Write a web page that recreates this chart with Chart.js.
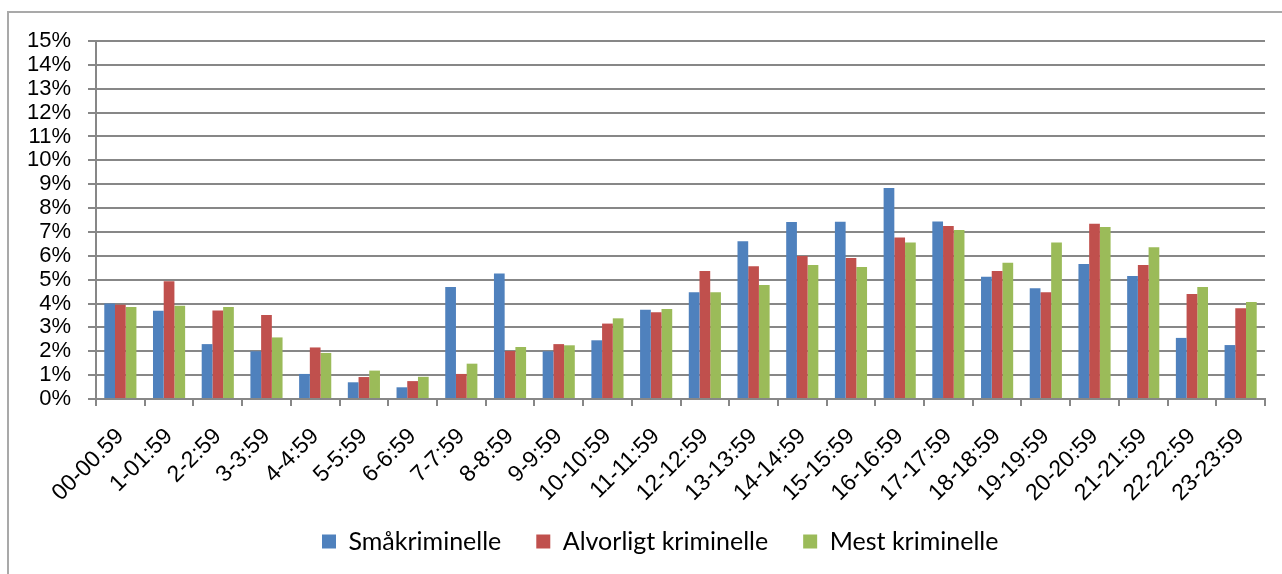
<!DOCTYPE html>
<html>
<head>
<meta charset="utf-8">
<script src="https://cdn.jsdelivr.net/npm/chart.js@4/dist/chart.umd.min.js"></script>
<style>
  body { margin: 0; background: #fff; }
  #frame {
    position: absolute; left: 7px; top: 11px; width: 1300px; height: 600px;
    border-left: 2px solid #a9a9a9; border-top: 2px solid #a9a9a9;
  }
  #wrap { position: absolute; left: 0; top: 0; width: 1282px; height: 574px; }
</style>
</head>
<body>
<div id="frame"></div>
<div id="wrap"><canvas id="myChart"></canvas></div>
<script>
// time of day categories
let hours = ['00-00.59','1-01:59','2-2:59','3-3:59','4-4:59','5-5:59','6-6:59','7-7:59','8-8:59','9-9:59','10-10:59','11-11:59',
             '12-12:59','13-13:59','14-14:59','15-15:59','16-16:59','17-17:59','18-18:59','19-19:59','20-20:59','21-21:59','22-22:59','23-23:59'];

// share of offences per hour, in percent
let smaakriminelle = [4.0,3.7,2.3,2.0,1.05,0.7,0.49,4.69,5.26,2.0,2.46,3.74,4.47,6.61,7.42,7.43,8.84,7.44,5.12,4.64,5.66,5.15,2.56,2.26];
let alvorligt = [3.95,4.93,3.71,3.52,2.16,0.92,0.75,1.05,2.01,2.3,3.16,3.64,5.36,5.56,5.99,5.91,6.77,7.25,5.36,4.47,7.34,5.61,4.4,3.8];
let mest = [3.85,3.91,3.85,2.58,1.93,1.19,0.93,1.48,2.18,2.25,3.38,3.77,4.47,4.78,5.61,5.53,6.56,7.08,5.71,6.56,7.21,6.36,4.69,4.06];

let seriesNames = ['Småkriminelle', 'Alvorligt kriminelle', 'Mest kriminelle'];
let yMax = 15;

const gridGrey = '#878787';

// the legend sits a bit left of the middle in the original, and overlaps the label band
const legendShift = {
  id: 'legendShift',
  afterLayout(chart) {
    chart.legend.left = 287;
    chart.legend.top = 494;
  }
};

const ctx = document.getElementById('myChart');

let myChart = new Chart(ctx, {
  type: 'bar',
  data: {
    labels: hours,
    datasets: [
      { label: seriesNames[0], data: smaakriminelle, backgroundColor: '#4F81BD' },
      { label: seriesNames[1], data: alvorligt, backgroundColor: '#C0504D' },
      { label: seriesNames[2], data: mest, backgroundColor: '#9BBB59' }
    ]
  },
  plugins: [legendShift],
  options: {
    responsive: true,
    maintainAspectRatio: false,
    animation: false,
    categoryPercentage: 0.66,
    barPercentage: 1.0,
    layout: { padding: { top: 41, right: 17, bottom: 0, left: 0 } },
    plugins: {
      tooltip: { enabled: false },
      legend: {
        position: 'bottom',
        align: 'start',
        labels: {
          boxWidth: 14,
          boxHeight: 14,
          padding: 35,
          color: '#000',
          font: { family: 'Lato', size: 25 }
        }
      }
    },
    scales: {
      x: {
        ticks: {
          color: '#000',
          font: { family: 'Liberation Sans', size: 23 },
          minRotation: 45,
          maxRotation: 45,
          autoSkip: false,
          padding: 17
        },
        grid: { drawOnChartArea: false, color: gridGrey, lineWidth: 2, tickLength: 7, offset: true },
        border: { color: gridGrey, width: 2 },
        afterFit: function(scale) { scale.height = 105; }
      },
      y: {
        min: 0,
        max: yMax,
        ticks: {
          stepSize: 1,
          autoSkip: false,
          color: '#000',
          font: { family: 'Liberation Sans', size: 22 },
          padding: 17,
          callback: function(v) { return v + '%'; }
        },
        grid: { color: gridGrey, lineWidth: 2, tickLength: 8 },
        border: { color: gridGrey, width: 2 },
        afterFit: function(scale) { scale.width = 96; }
      }
    }
  }
});
</script>
</body>
</html>
